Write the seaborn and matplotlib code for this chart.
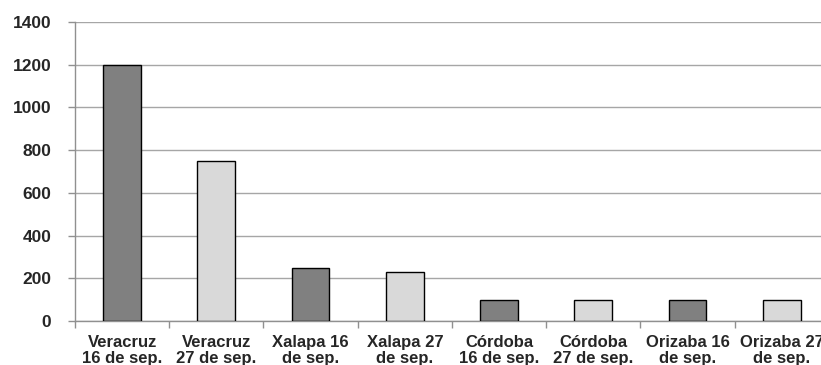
import matplotlib
matplotlib.use("Agg")
import matplotlib.pyplot as plt
import seaborn as sns
import numpy as np

# Data
categories = [
    "Veracruz\n16 de sep.", "Veracruz\n27 de sep.",
    "Xalapa 16\nde sep.", "Xalapa 27\nde sep.",
    "Córdoba\n16 de sep.", "Córdoba\n27 de sep.",
    "Orizaba 16\nde sep.", "Orizaba 27\nde sep.",
]
values = [1200, 750, 250, 230, 100, 100, 100, 100]
bar_colors = ["#808080", "#d9d9d9"] * 4
y_ticks = [0, 200, 400, 600, 800, 1000, 1200, 1400]

sns.set_theme(style="white")
plt.rcParams["font.family"] = ["Liberation Sans", "DejaVu Sans"]
plt.rcParams["font.weight"] = "bold"

fig = plt.figure(figsize=(8.21, 3.65), dpi=100)
ax = fig.add_axes([0.0913, 0.1205, 0.9184, 0.819])

sns.barplot(x=categories, y=values, hue=categories, palette=bar_colors,
            legend=False, width=0.4, edgecolor="black", linewidth=1.0,
            saturation=1, ax=ax, zorder=3)

ax.set_ylim(0, 1400)
ax.set_xlim(-0.5, len(categories) - 0.5)
ax.set_yticks(y_ticks)
ax.yaxis.grid(True, color="#a6a6a6", linewidth=1.0, zorder=0)
ax.set_axisbelow(True)

# category boundaries carry the tick marks
ax.set_xticks(np.arange(-0.5, len(categories) + 0.5, 1.0), minor=True)
ax.tick_params(axis="x", which="minor", length=5, width=1, color="#909090",
               direction="out", bottom=True)
ax.tick_params(axis="x", which="major", length=0, pad=10)
ax.tick_params(axis="y", length=5, width=1, color="#909090",
               direction="out", left=True, pad=12)

for lbl in ax.get_xticklabels():
    lbl.set_fontsize(12)
    lbl.set_fontweight("bold")
    lbl.set_linespacing(1.05)
for lbl in ax.get_yticklabels():
    lbl.set_fontsize(12.5)
    lbl.set_fontweight("bold")

for side in ["top", "right"]:
    ax.spines[side].set_visible(False)
for side in ["left", "bottom"]:
    ax.spines[side].set_color("#909090")
    ax.spines[side].set_linewidth(1.0)

ax.set_xlabel("")
ax.set_ylabel("")

fig.savefig("out.png", dpi=100)
